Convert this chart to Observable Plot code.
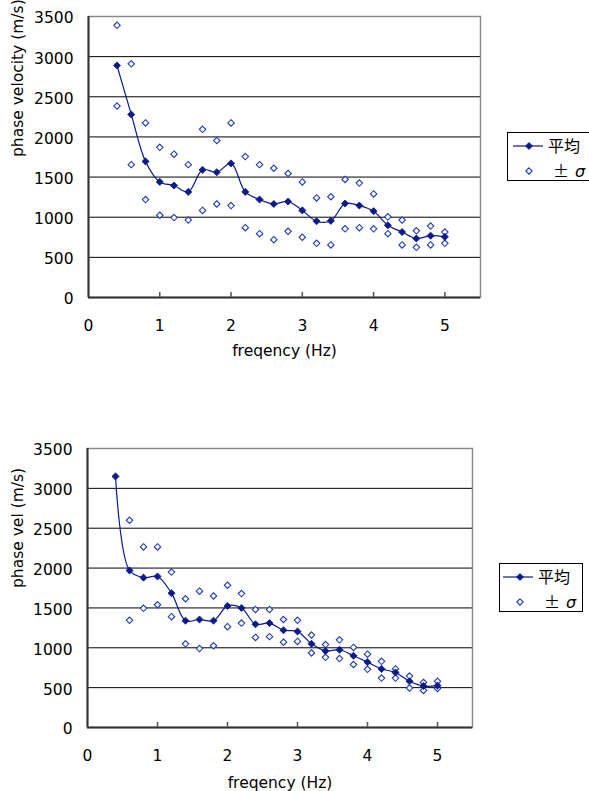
<!DOCTYPE html>
<html><head><meta charset="utf-8">
<script src="https://cdn.jsdelivr.net/npm/d3@7"></script>
<script src="https://cdn.jsdelivr.net/npm/@observablehq/plot@0.6"></script>
<style>
body{margin:0;background:#fff;}
#wrap{position:relative;width:589px;height:791px;overflow:hidden;font-family:"DejaVu Sans","Noto Sans CJK JP",sans-serif;}
.chart{position:absolute;left:0;}
.legend{position:absolute;border:1px solid #000;background:#fff;box-sizing:border-box;}
</style></head><body><div id="wrap"></div>
<script>
// frequency (Hz)
const freq = [0.4,0.6,0.8,1.0,1.2,1.4,1.6,1.8,2.0,2.2,2.4,2.6,2.8,3.0,3.2,3.4,3.6,3.8,4.0,4.2,4.4,4.6,4.8,5.0];
// top chart
const meanTop  = [2890,2280,1695,1440,1395,1315,1590,1560,1670,1315,1220,1165,1195,1085,950,955,1170,1145,1075,900,815,735,770,755];
const upperTop = [3390,2910,2175,1870,1785,1655,2095,1955,2175,1755,1655,1610,1545,1440,1240,1255,1470,1425,1290,1005,965,830,890,815];
const lowerTop = [2385,1655,1220,1025,995,965,1085,1165,1145,870,795,720,825,750,675,655,855,870,855,795,655,625,655,675];
// bottom chart
const meanBot  = [3150,1970,1880,1895,1685,1340,1355,1340,1525,1500,1295,1310,1220,1205,1050,960,975,900,820,735,690,580,520,525];
const upperBot = [null,2600,2265,2265,1950,1615,1710,1650,1785,1680,1480,1480,1355,1345,1160,1040,1100,1005,920,830,735,645,565,580];
const lowerBot = [null,1345,1495,1540,1390,1050,990,1025,1265,1310,1130,1140,1070,1080,935,880,865,790,730,620,620,495,465,490];
// ticks & labels
const xTicks = [0,1,2,3,4,5];
const yTicks = [0,500,1000,1500,2000,2500,3000,3500];
const xLabel = "freqency (Hz)";
const yLabelTop = "phase velocity (m/s)";
const yLabelBot = "phase vel (m/s)";
const legendLabels = ["平均", "±", "σ"];

const NAVY = "#0a1a8c";
const BLUE = "#1f3ab4";
const FONT = "'DejaVu Sans','Noto Sans CJK JP',sans-serif";

function makeChart({mean, upper, lower, yLabel, height, mt, mb, ml, mr, labelDx, labelDy}) {
  const meanData = freq.map((f, i) => ({f, v: mean[i]}));
  const sigmaData = [];
  freq.forEach((f, i) => {
    if (upper[i] != null) sigmaData.push({f, v: upper[i]});
    if (lower[i] != null) sigmaData.push({f, v: lower[i]});
  });
  const plotH = height - mt - mb;
  return Plot.plot({
    width: 589, height, marginTop: mt, marginBottom: mb, marginLeft: ml, marginRight: mr,
    style: {fontFamily: FONT, fontSize: "15px", color: "#000", background: "transparent", overflow: "visible"},
    x: {domain: [0, 5.5]},
    y: {domain: [0, 3500]},
    marks: [
      Plot.gridY(yTicks.filter(t => t > 0 && t < 3500), {stroke: "#000", strokeOpacity: 1, strokeWidth: 1}),
      Plot.frame({stroke: "#8a8a8a", strokeWidth: 1.5}),
      Plot.ruleX([0], {stroke: "#333", strokeWidth: 2}),
      Plot.ruleY([0], {stroke: "#333", strokeWidth: 2}),
      Plot.tickX(xTicks.slice(1), {x: d => d, stroke: "#555", strokeWidth: 1.5, insetTop: plotH - 5}),
      Plot.axisY(yTicks, {tickSize: 0, tickPadding: 15, label: null, fontSize: 15.5, dy: 2, tickFormat: d => String(d)}),
      Plot.axisX(xTicks, {tickSize: 0, tickPadding: 22, label: null, fontSize: 15.5, tickFormat: d => String(d)}),
      Plot.line(meanData, {x: "f", y: "v", curve: "catmull-rom", stroke: NAVY, strokeWidth: 1.2}),
      Plot.dot(sigmaData, {x: "f", y: "v", symbol: "diamond2", r: 2.9, stroke: BLUE, fill: "white", strokeWidth: 1.1}),
      Plot.dot(meanData, {x: "f", y: "v", symbol: "diamond2", r: 3.2, fill: NAVY, stroke: NAVY, strokeWidth: 0.8}),
      Plot.text([yLabel], {frameAnchor: "left", dx: labelDx, rotate: -90, fontSize: 15.5, fill: "#000"}),
      Plot.text([xLabel], {frameAnchor: "bottom", dy: labelDy, fontSize: 15.5, fill: "#000"})
    ]
  });
}

function makeLegend({left, top, width, lineX1, lineX2, markX, textX1, textX2}) {
  const div = document.createElement("div");
  div.className = "legend";
  div.style.left = left + "px";
  div.style.top = top + "px";
  div.style.width = width + "px";
  div.style.height = "49px";
  const ns = "http://www.w3.org/2000/svg";
  const svg = document.createElementNS(ns, "svg");
  svg.setAttribute("width", width);
  svg.setAttribute("height", 49);
  svg.style.position = "absolute";
  svg.style.left = "-1px";
  svg.style.top = "-1px";
  const diamond = (cx, cy, h) => `M${cx},${cy - h}L${cx + h},${cy}L${cx},${cy + h}L${cx - h},${cy}Z`;
  svg.innerHTML =
    `<line x1="${lineX1}" x2="${lineX2}" y1="14" y2="14" stroke="${NAVY}" stroke-width="1.2"/>` +
    `<path d="${diamond(markX, 14, 3.5)}" fill="${NAVY}" stroke="${NAVY}" stroke-width="0.8"/>` +
    `<path d="${diamond(markX, 39, 3.2)}" fill="white" stroke="${BLUE}" stroke-width="1.1"/>` +
    `<text x="${textX1}" y="14" dy="0.35em" font-size="16" font-family="'Noto Sans CJK JP',sans-serif">${legendLabels[0]}</text>` +
    `<text x="${textX2}" y="39" dy="0.35em" font-size="16" font-family="'Noto Sans CJK JP',sans-serif">${legendLabels[1]}<tspan dx="6" font-style="italic" font-family="'DejaVu Sans',sans-serif">${legendLabels[2]}</tspan></text>`;
  div.appendChild(svg);
  return div;
}

const wrap = document.getElementById("wrap");
const top1 = makeChart({mean: meanTop, upper: upperTop, lower: lowerTop, yLabel: yLabelTop,
  height: 380, mt: 16, mb: 83, ml: 88, mr: 109, labelDx: -70, labelDy: 58});
top1.classList.add("chart"); top1.style.top = "0px";
wrap.appendChild(top1);
const bot1 = makeChart({mean: meanBot, upper: upperBot, lower: lowerBot, yLabel: yLabelBot,
  height: 371, mt: 28, mb: 64, ml: 87, mr: 117, labelDx: -69, labelDy: 60});
bot1.classList.add("chart"); bot1.style.top = "420px";
wrap.appendChild(bot1);

wrap.appendChild(makeLegend({left: 507, top: 132, width: 95, lineX1: 6, lineX2: 36, markX: 22, textX1: 41, textX2: 46}));
wrap.appendChild(makeLegend({left: 499, top: 563, width: 84, lineX1: 4, lineX2: 34, markX: 21, textX1: 39, textX2: 45}));
</script></body></html>
